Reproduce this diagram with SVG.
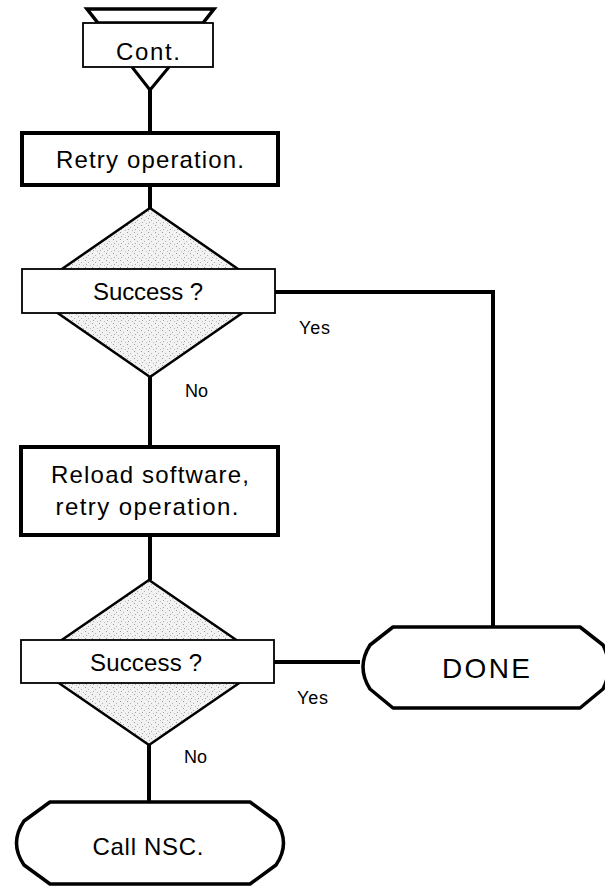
<svg xmlns="http://www.w3.org/2000/svg" width="605" height="890" viewBox="0 0 605 890">
<defs>
<pattern id="stip" width="7" height="7" patternUnits="userSpaceOnUse">
<rect width="7" height="7" fill="#f2f2f2"/>
<rect x="1" y="1" width="1" height="1" fill="#9a9a9a"/>
<rect x="4" y="3" width="1" height="1" fill="#b0b0b0"/>
<rect x="2" y="5" width="1" height="1" fill="#a5a5a5"/>
<rect x="6" y="6" width="1" height="1" fill="#bbbbbb"/>
</pattern>
<style>
text{font-family:"Liberation Sans",Arial,sans-serif;fill:#000;text-anchor:middle}
.lbl{font-size:24px}
.sm{font-size:18px;text-anchor:start}
.thin{fill:#fff;stroke:#000;stroke-width:1.8}
.thick{fill:#fff;stroke:#000;stroke-width:4}
.dia{fill:url(#stip);stroke:#000;stroke-width:2.5}
.term{fill:#fff;stroke:#000;stroke-width:3.5;stroke-linejoin:round}
.con{fill:none;stroke:#000;stroke-width:4}
</style>
</defs>
<rect width="605" height="890" fill="#fff"/>

<g id="connectors">
<path class="con" d="M150,90 V133"/>
<path class="con" d="M150,185 V208"/>
<path class="con" d="M150,377 V447"/>
<path class="con" d="M150,535 V580"/>
<path class="con" d="M149,745 V802"/>
<path class="con" d="M275,292 H493 V627" stroke-width="3.5"/>
<path class="con" d="M274,662 H360" stroke-width="3.5"/>
<text class="sm" x="299" y="334" textLength="31" lengthAdjust="spacing">Yes</text>
<text class="sm" x="185" y="397">No</text>
<text class="sm" x="297" y="704" textLength="31" lengthAdjust="spacing">Yes</text>
<text class="sm" x="184" y="763">No</text>
</g>

<g id="cont">
<polygon points="87,9 214,9 203,23 98,23" fill="#fff" stroke="#000" stroke-width="3.5" stroke-linejoin="miter"/>
<path d="M132,67 L150,90 L169,67" fill="none" stroke="#000" stroke-width="3"/>
<rect class="thin" x="83" y="23" width="130" height="44"/>
<text class="lbl" x="148" y="60" textLength="64" lengthAdjust="spacing">Cont.</text>
</g>

<g id="retry">
<rect class="thick" x="22" y="133" width="256" height="52"/>
<text class="lbl" x="150" y="168" textLength="188" lengthAdjust="spacing">Retry operation.</text>
</g>

<g id="success1">
<polygon class="dia" points="150,208 272,292.5 150,377 28,292.5"/>
<rect class="thin" x="22" y="269" width="253" height="44"/>
<text class="lbl" x="148" y="300" textLength="110" lengthAdjust="spacing">Success ?</text>
</g>

<g id="reload">
<rect class="thick" x="21" y="447" width="257" height="88"/>
<text class="lbl" x="150" y="483" textLength="198" lengthAdjust="spacing">Reload software,</text>
<text class="lbl" x="147" y="515" textLength="183" lengthAdjust="spacing">retry operation.</text>
</g>

<g id="success2">
<polygon class="dia" points="149,580 269,662.5 149,745 29,662.5"/>
<rect class="thin" x="21" y="640" width="253" height="43"/>
<text class="lbl" x="146" y="671" textLength="112" lengthAdjust="spacing">Success ?</text>
</g>

<g id="done">
<path class="term" d="M393,627 H580 L603,645 Q614,667 603,689 L580,708 H393 L370,689 Q356,667 370,645 Z"/>
<text x="486" y="678" font-size="28" textLength="88" lengthAdjust="spacing">DONE</text>
</g>

<g id="callnsc">
<path class="term" d="M50,802 H250 L276,821 Q291,843 276,865 L250,884 H50 L24,865 Q9,843 24,821 Z"/>
<text x="148" y="855" font-size="24" textLength="111" lengthAdjust="spacing">Call NSC.</text>
</g>
</svg>
